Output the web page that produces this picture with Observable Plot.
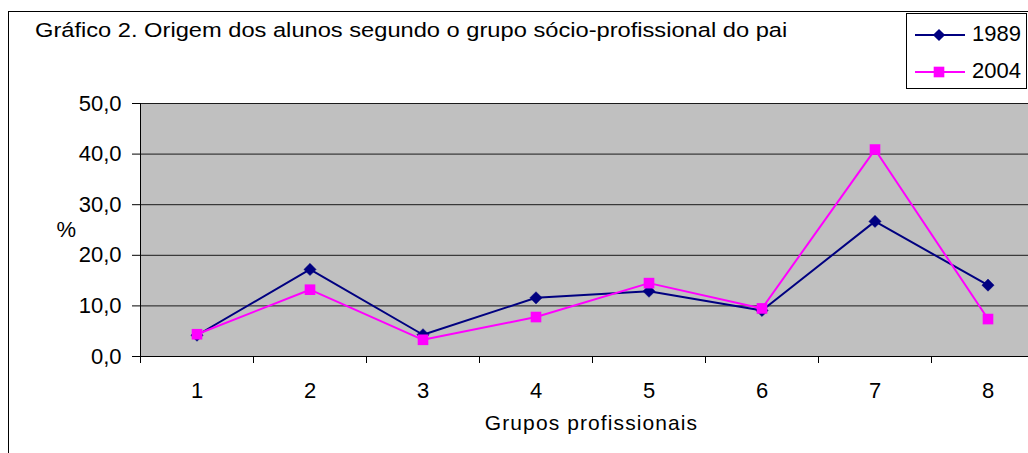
<!DOCTYPE html>
<html>
<head>
<meta charset="utf-8">
<script src="https://cdn.jsdelivr.net/npm/d3@7"></script>
<script src="https://cdn.jsdelivr.net/npm/@observablehq/plot@0.6"></script>
<style>
  html, body { margin: 0; padding: 0; background: #fff; }
  #wrap { position: relative; width: 1028px; height: 453px; overflow: hidden; font-family: 'Liberation Sans', Arial, sans-serif; }
  #border { position: absolute; left: 8px; top: 11px; width: 1100px; height: 500px; border-top: 1px solid #000; border-left: 1px solid #000; box-sizing: border-box; }
  #title { position: absolute; left: 35px; top: 20px; font-size: 20.5px; line-height: 1; color: #000; white-space: nowrap; transform: scaleX(1.154); transform-origin: 0 0; }
  #chart { position: absolute; left: 0; top: 0; }
  #legend { position: absolute; left: 906px; top: 13px; }
</style>
</head>
<body>
<div id="wrap">
  <div id="border"></div>
  <div id="chart"></div>
  <div id="title">Gráfico 2. Origem dos alunos segundo o grupo sócio-profissional do pai</div>
  <div id="legend"></div>
</div>
<script>
// ---- data ----
const groups = [1, 2, 3, 4, 5, 6, 7, 8];
const v1989 = [4.2, 17.2, 4.3, 11.6, 12.9, 9.1, 26.7, 14.1];
const v2004 = [4.4, 13.2, 3.3, 7.8, 14.5, 9.5, 40.9, 7.4];
const seriesNames = ["1989", "2004"];
const seriesColors = ["#000080", "#FF00FF"];
const seriesSymbols = ["diamond2", "square"];
const yTicks = [0, 10, 20, 30, 40, 50];
const xLabel = "Grupos profissionais";
const yLabel = "%";

const rows1989 = groups.map((g, i) => ({group: g, value: v1989[i]}));
const rows2004 = groups.map((g, i) => ({group: g, value: v2004[i]}));
const bounds = groups.map(g => g - 0.5).concat([groups[groups.length - 1] + 0.5]);
const fmt = d => d.toFixed(1).replace(".", ",");

const chart = Plot.plot({
  width: 1028,
  height: 453,
  marginLeft: 140,
  marginRight: 0,
  marginTop: 103,
  marginBottom: 97,
  style: {fontFamily: "'Liberation Sans', Arial, sans-serif", fontSize: "22px", color: "#000", background: "transparent", overflow: "visible"},
  x: {type: "linear", domain: [bounds[0], bounds[bounds.length - 1]], range: [140, 1044]},
  y: {domain: [yTicks[0], yTicks[yTicks.length - 1]]},
  marks: [
    Plot.frame({fill: "#C0C0C0", stroke: "#808080"}),
    Plot.gridY(yTicks.slice(1), {stroke: "#1a1a1a", strokeOpacity: 1}),
    Plot.ruleY([yTicks[0]], {stroke: "#000"}),
    Plot.ruleX([bounds[0]], {stroke: "#000"}),
    Plot.axisY(yTicks, {tickSize: 8, tickPadding: 11, tickFormat: fmt, label: null, stroke: "#000"}),
    Plot.axisX(bounds, {tickSize: 7, tickFormat: () => "", label: null, stroke: "#000"}),
    Plot.axisX(groups, {tickSize: 0, tickPadding: 26, tickFormat: d => String(d), label: null}),
    Plot.text([yLabel], {frameAnchor: "left", dx: -84, fontSize: 22}),
    Plot.text([xLabel], {frameAnchor: "bottom", dx: 7, dy: 73.5, fontSize: 21}),
    Plot.line(rows1989, {x: "group", y: "value", stroke: seriesColors[0], strokeWidth: 2}),
    Plot.dot(rows1989, {x: "group", y: "value", symbol: seriesSymbols[0], r: 5.5, fill: seriesColors[0], stroke: seriesColors[0], strokeWidth: 0.5}),
    Plot.line(rows2004, {x: "group", y: "value", stroke: seriesColors[1], strokeWidth: 2}),
    Plot.dot(rows2004, {x: "group", y: "value", symbol: seriesSymbols[1], r: 6, fill: seriesColors[1], stroke: "none"})
  ]
});
d3.select(chart).selectAll("text").filter(function() { return this.textContent === xLabel; }).attr("letter-spacing", "1.1px");
document.getElementById("chart").appendChild(chart);

// ---- legend ----
const lw = 122, lh = 76;
const leg = d3.select("#legend").append("svg").attr("width", lw).attr("height", lh)
  .style("font-family", "'Liberation Sans', Arial, sans-serif");
leg.append("rect").attr("x", 0.5).attr("y", 0.5).attr("width", lw - 2).attr("height", lh - 1)
  .attr("fill", "#fff").attr("stroke", "#000");
const symMap = {diamond2: d3.symbolDiamond2, square: d3.symbolSquare};
const symSize = [Math.PI * 5.5 * 5.5, Math.PI * 6 * 6];
seriesNames.forEach((name, i) => {
  const cy = 22 + i * 37;
  leg.append("line").attr("x1", 9).attr("x2", 59).attr("y1", cy).attr("y2", cy)
    .attr("stroke", seriesColors[i]).attr("stroke-width", 2);
  leg.append("path").attr("transform", `translate(33,${cy})`)
    .attr("d", d3.symbol(symMap[seriesSymbols[i]], symSize[i])())
    .attr("fill", seriesColors[i]);
  leg.append("text").attr("x", 66).attr("y", cy + 6)
    .attr("font-size", 22).attr("fill", "#000").text(name);
});
</script>
</body>
</html>
